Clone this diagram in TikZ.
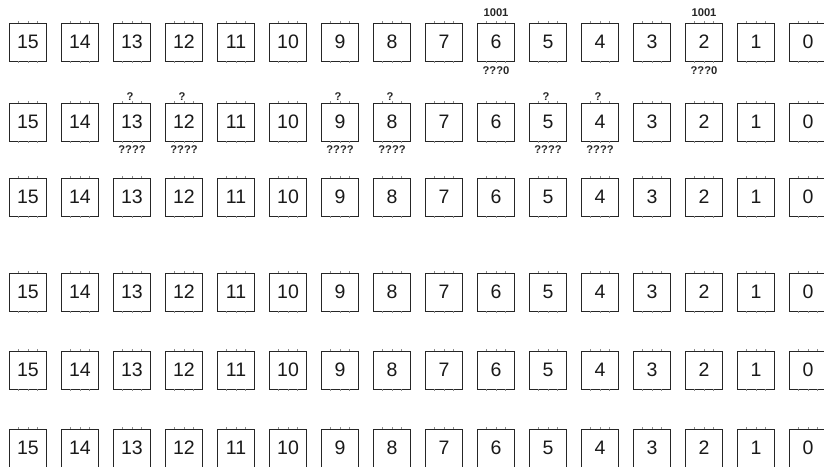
\documentclass[tikz,border=0pt]{standalone}
\usepackage{fontspec}
\setmainfont{Liberation Sans}
\usetikzlibrary{calc}
\begin{document}
\begin{tikzpicture}[x=1pt,y=1pt,
  cell/.style={draw=black!85, line width=0.9pt, minimum width=37pt, minimum height=38pt, inner sep=0pt,
    font=\fontsize{19.5}{22}\selectfont, text=black!90},
  lbl/.style={inner sep=0pt, font=\bfseries\fontsize{11.2}{13}\selectfont, anchor=base, text=black!85},
  tick/.style={draw=black!45, line width=0.5pt}]
\useasboundingbox (0,0) rectangle (824,-466);
\foreach \r/\y in {1/42, 2/122, 3/197, 4/292, 5/370, 6/448}{
  \foreach \i in {0,...,15}{
    \pgfmathtruncatemacro{\n}{15-\i}
    \node[cell] (b\r-\n) at (28+52*\i,-\y) {\n};
    \foreach \f in {0.25,0.5,0.75}{
      \draw[tick] ($(b\r-\n.north west)!\f!(b\r-\n.north east)$) -- ++(0,2);
      \draw[tick] ($(b\r-\n.south west)!\f!(b\r-\n.south east)$) -- ++(0,-2);
    }
  }
}
% row 1 labels
\foreach \n in {6,2}{
  \node[lbl] (t1-\n) at ([yshift=6]b1-\n.north) {1001};
  \node[lbl] (u1-\n) at ([yshift=-13.5]b1-\n.south) {???0};
}
% row 2 labels
\foreach \n in {13,12,9,8,5,4}{
  \node[lbl] (t2-\n) at ([xshift=-2,yshift=2]b2-\n.north) {?};
  \node[lbl] (u2-\n) at ([yshift=-12.5]b2-\n.south) {????};
}
\end{tikzpicture}
\end{document}
